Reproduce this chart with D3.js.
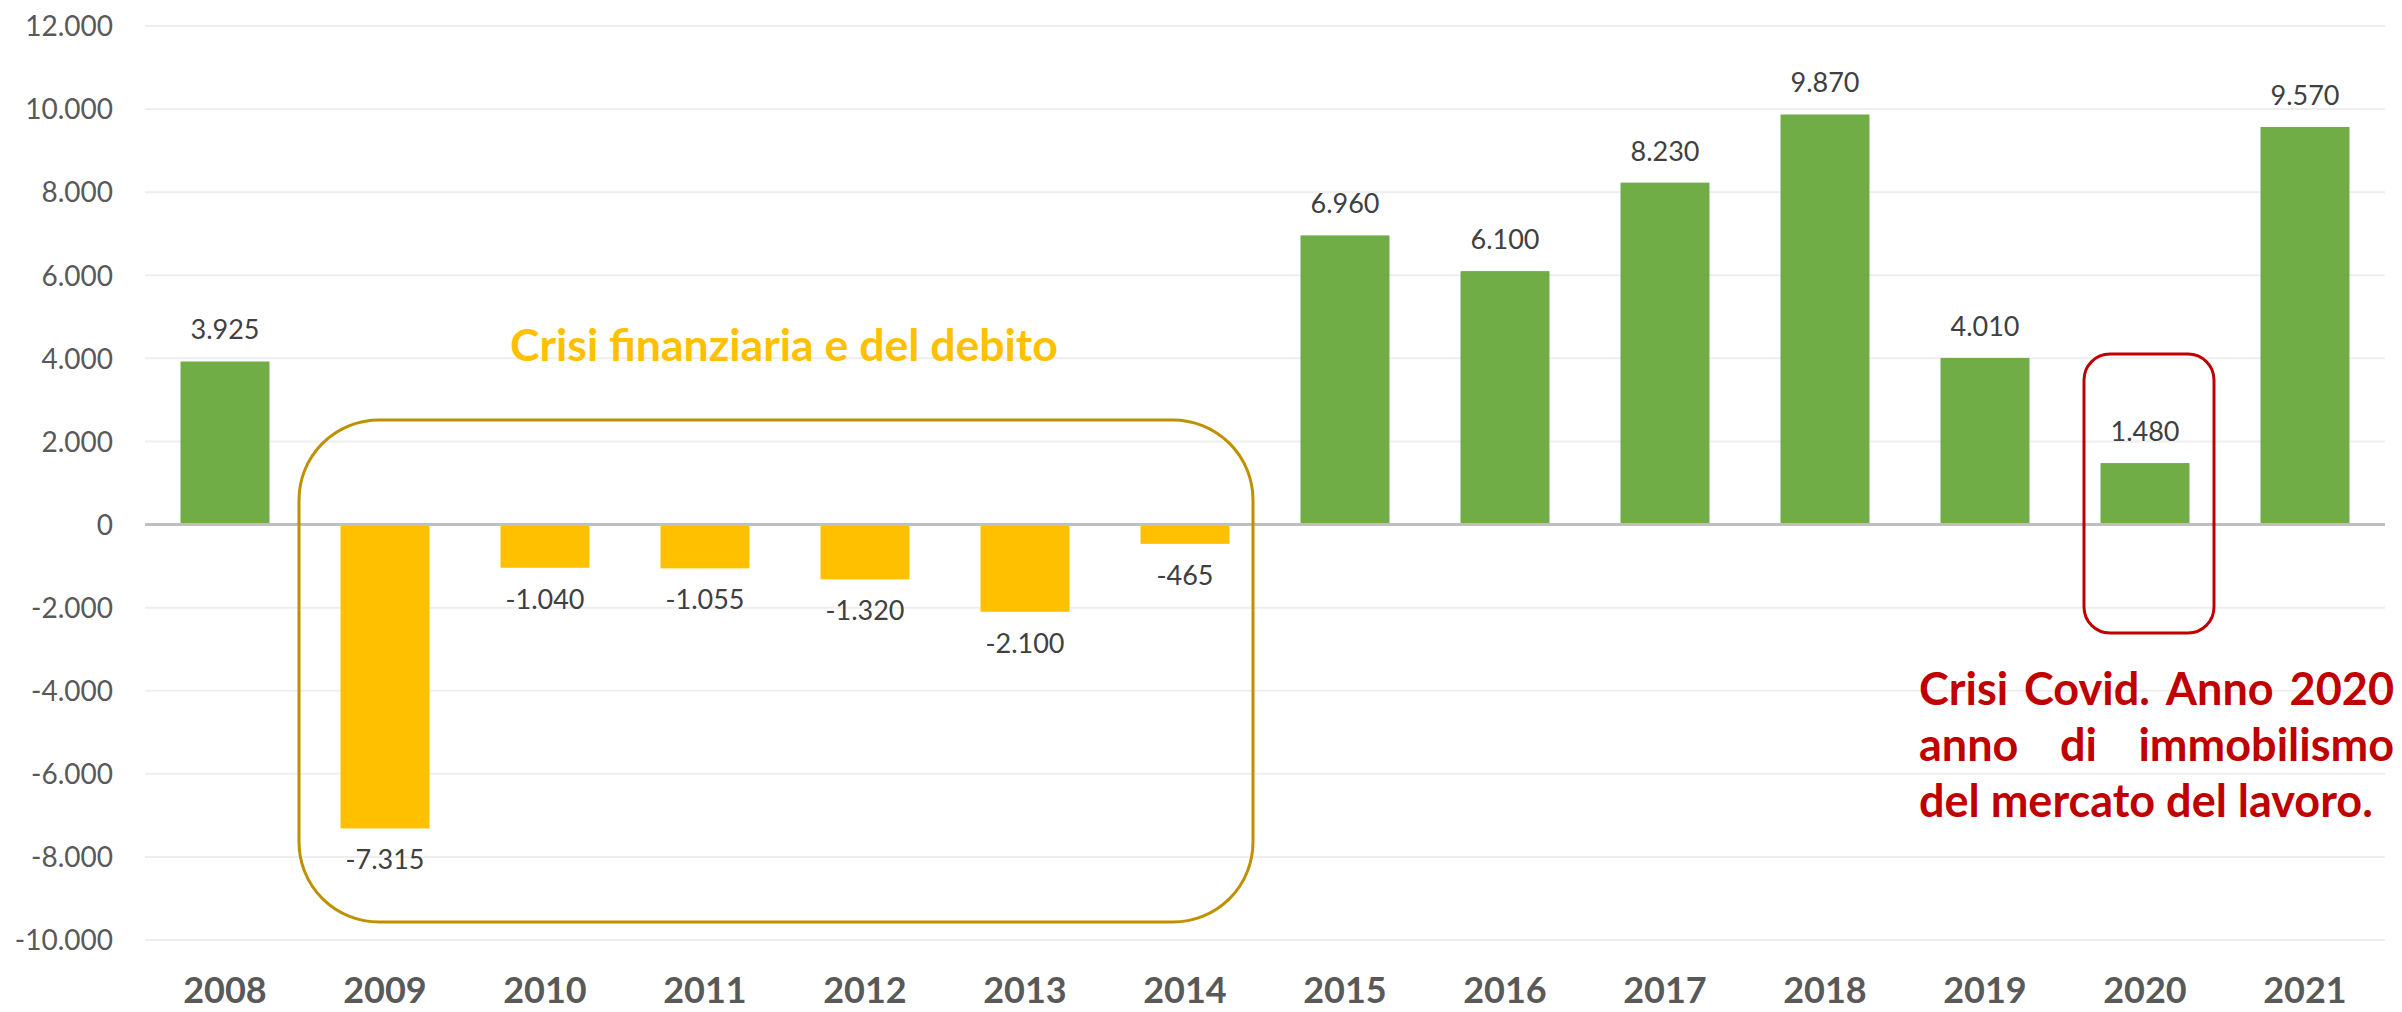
<!DOCTYPE html>
<html><head><meta charset="utf-8">
<script src="https://cdn.jsdelivr.net/npm/d3@7"></script>
<style>html,body{margin:0;padding:0;background:#fff;}svg{display:block;}</style>
</head><body>
<svg id="c" width="2402" height="1012"></svg>
<script>
const categories = ["2008","2009","2010","2011","2012","2013","2014","2015","2016","2017","2018","2019","2020","2021"];
const values = [3925,-7315,-1040,-1055,-1320,-2100,-465,6960,6100,8230,9870,4010,1480,9570];
const crisisYears = ["2009","2010","2011","2012","2013","2014"];
const yTicks = [-10000,-8000,-6000,-4000,-2000,0,2000,4000,6000,8000,10000,12000];
const crisisLabel = "Crisi finanziaria e del debito";
const covidLines = ["Crisi Covid. Anno 2020","anno di immobilismo","del mercato del lavoro."];

const svg = d3.select("#c");
const locale = d3.formatLocale({decimal:",", thousands:".", grouping:[3], currency:["€",""], minus:"-"});
const fmt = locale.format(",");
const FONT = "Lato, 'Open Sans', sans-serif";

const x = d3.scaleBand().domain(categories).range([145,2385]).paddingInner(0.444).paddingOuter(0.222);
const y = d3.scaleLinear().domain([-10000,12000]).range([940,26]);

// gridlines
svg.append("g").selectAll("line").data(yTicks.filter(t=>t!==0)).join("line")
  .attr("x1",145).attr("x2",2385).attr("y1",d=>y(d)).attr("y2",d=>y(d))
  .attr("stroke","#EEEEEE").attr("stroke-width",2);

// y axis labels
const yAxis = d3.axisLeft(y).tickValues(yTicks).tickFormat(fmt).tickSize(0).tickPadding(0);
const ga = svg.append("g").attr("transform","translate(113,0)").call(yAxis);
ga.select(".domain").remove();
ga.selectAll("text").attr("font-family",FONT).attr("font-size",28).attr("fill","#595959").attr("dy","0.35em");

// bars
const data = categories.map((c,i)=>({c, v: values[i]}));
svg.append("g").selectAll("rect").data(data).join("rect")
  .attr("x",d=>x(d.c)).attr("width",x.bandwidth())
  .attr("y",d=>y(Math.max(0,d.v))).attr("height",d=>Math.abs(y(d.v)-y(0)))
  .attr("fill",d=>crisisYears.includes(d.c)?"#FFC000":"#70AD47");

// zero line
svg.append("line").attr("x1",145).attr("x2",2385).attr("y1",y(0)).attr("y2",y(0))
  .attr("stroke","#BFBFBF").attr("stroke-width",3);

// data labels
svg.append("g").selectAll("text").data(data).join("text")
  .attr("x",d=>x(d.c)+x.bandwidth()/2)
  .attr("y",d=>d.v>=0 ? y(d.v)-22 : y(d.v)+41)
  .attr("text-anchor","middle").attr("font-family",FONT).attr("font-size",27).attr("fill","#404040")
  .text(d=>fmt(d.v));

// x labels
const xAxis = d3.axisBottom(x).tickSize(0).tickPadding(0);
const gx = svg.append("g").attr("transform","translate(0,1003)").call(xAxis);
gx.select(".domain").remove();
gx.selectAll("text").attr("font-family",FONT).attr("font-size",36).attr("font-weight","bold").attr("fill","#595959").attr("dy",0);

// crisis box
svg.append("rect").attr("x",299).attr("y",420).attr("width",1253-299).attr("height",922-420)
  .attr("rx",80).attr("ry",80).attr("fill","none").attr("stroke","#BF9000").attr("stroke-width",3);
const ct = svg.append("text").attr("x",510).attr("y",361).attr("font-family",FONT).attr("font-weight","bold")
  .attr("font-size",44).attr("fill","#FFC000").text(crisisLabel);
{ const w = ct.node().getComputedTextLength(); ct.attr("font-size",44*548/w); }

// covid box
svg.append("rect").attr("x",2084).attr("y",354).attr("width",2214-2084).attr("height",633-354)
  .attr("rx",26).attr("ry",26).attr("fill","none").attr("stroke","#C00000").attr("stroke-width",3);

// covid text (justified)
const L = 1919, R = 2394, base = [705,761,817];
let fs = 44;
{
  const t = svg.append("text").attr("font-family",FONT).attr("font-weight","bold").attr("font-size",fs).text(covidLines[2]);
  const w = t.node().getComputedTextLength(); t.remove(); fs = fs*454/w;
}
covidLines.forEach((line,li)=>{
  const words = line.split(" ");
  if (li === covidLines.length-1) {
    svg.append("text").attr("x",L).attr("y",base[li]).attr("font-family",FONT).attr("font-weight","bold")
      .attr("font-size",fs).attr("fill","#C00000").text(line);
    return;
  }
  const nodes = words.map(w=>svg.append("text").attr("font-family",FONT).attr("font-weight","bold")
      .attr("font-size",fs).attr("fill","#C00000").attr("y",base[li]).text(w));
  const widths = nodes.map(n=>n.node().getComputedTextLength());
  const gap = (R-L-d3.sum(widths))/(words.length-1);
  let cx = L;
  nodes.forEach((n,i)=>{ n.attr("x",cx); cx += widths[i]+gap; });
});
</script>
</body></html>
